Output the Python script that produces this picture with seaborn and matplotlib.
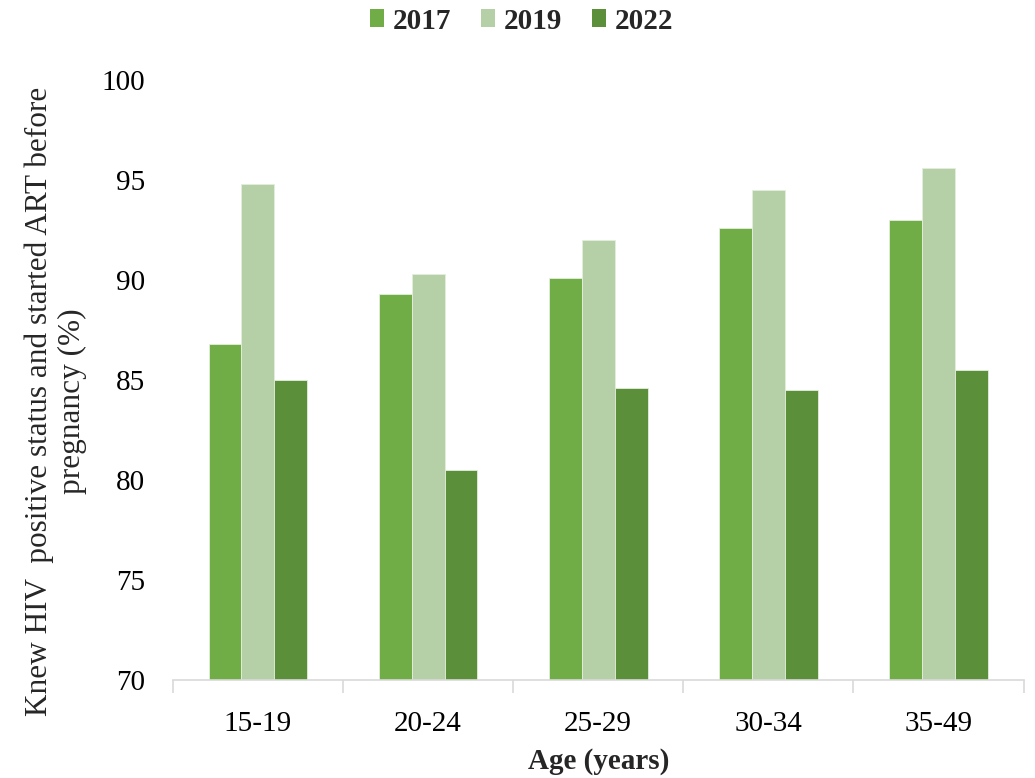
import numpy as np
import pandas as pd
import matplotlib
matplotlib.use("Agg")
import matplotlib.pyplot as plt
import seaborn as sns
from matplotlib.patches import Patch

# Age groups and survey rounds
age_groups = ["15-19", "20-24", "25-29", "30-34", "35-49"]
years = ["2017", "2019", "2022"]

# Percent who knew HIV-positive status and started ART before pregnancy
pct_2017 = [86.8, 89.3, 90.1, 92.6, 93.0]
pct_2019 = [94.8, 90.3, 92.0, 94.5, 95.6]
pct_2022 = [85.0, 80.5, 84.6, 84.5, 85.5]

y_ticks = [70, 75, 80, 85, 90, 95, 100]

colors = {"2017": "#70AD47", "2019": "#B5CFA7", "2022": "#5B8F3A"}

df = pd.DataFrame({
    "age": age_groups * 3,
    "year": [y for y in years for _ in age_groups],
    "pct": pct_2017 + pct_2019 + pct_2022,
})

sns.set_theme(style="white")
plt.rcParams["font.family"] = ["Liberation Serif", "DejaVu Serif"]

fig = plt.figure(figsize=(10.35, 7.78), dpi=100)
ax = fig.add_axes([0.167, 0.126, 0.822, 0.771])

sns.barplot(data=df, x="age", y="pct", hue="year", order=age_groups,
            hue_order=years, palette=colors, saturation=1, width=0.58, gap=0,
            edgecolor="#E4EEDD", linewidth=0.6, ax=ax, legend=False)

ax.set_ylim(70, 100)
ax.set_xlim(-0.5, len(age_groups) - 0.5)
ax.set_yticks(y_ticks)
ax.set_yticklabels([str(t) for t in y_ticks], fontsize=21, color="black")
ax.tick_params(axis="y", length=0, pad=20)

# category boundary ticks on the x axis, labels centred between them
ax.set_xticks(np.arange(-0.5, len(age_groups), 1.0))
ax.set_xticklabels([])
ax.tick_params(axis="x", which="major", length=9, width=1.2, color="#D9D9D9",
               direction="out", bottom=True)
ax.set_xticks(np.arange(len(age_groups)), minor=True)
ax.set_xticklabels(age_groups, minor=True, fontsize=21, color="black")
ax.tick_params(axis="x", which="minor", length=0, pad=22)

for side in ["left", "top", "right"]:
    ax.spines[side].set_visible(False)
ax.spines["bottom"].set_color("#D9D9D9")
ax.spines["bottom"].set_linewidth(1.2)
ax.grid(False)

ax.set_xlabel("Age (years)", fontsize=21, fontweight="bold", labelpad=8)
ax.set_ylabel("")
fig.text(0.054, 0.484,
         "Knew HIV  positive status and started ART before\npregnancy (%)",
         rotation=90, ha="center", va="center", fontsize=22.5,
         linespacing=1.2, multialignment="center")

handles = [Patch(facecolor=colors[y], edgecolor="none", label=y) for y in years]
leg = fig.legend(handles=handles, loc="center", bbox_to_anchor=(0.504, 0.973),
                 ncol=3, frameon=False, handlelength=0.5, handleheight=0.6,
                 handletextpad=0.3, columnspacing=1.0,
                 prop={"size": 21, "weight": "bold"})

fig.savefig("out.png", dpi=100)
